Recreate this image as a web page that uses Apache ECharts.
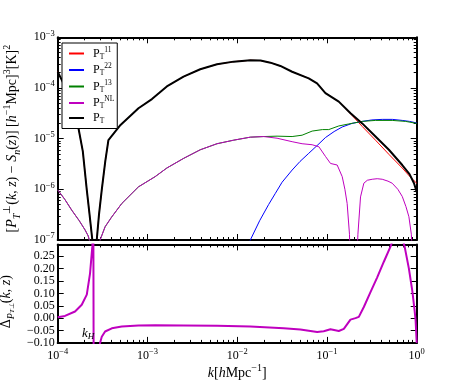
<!DOCTYPE html>
<html>
<head>
<meta charset="utf-8">
<script src="https://cdn.jsdelivr.net/npm/echarts@6/dist/echarts.min.js"></script>
<style>
  html, body { margin: 0; padding: 0; background: #ffffff; }
  #chart { width: 463px; height: 382px; }
</style>
</head>
<body>
<div id="chart"></div>
<script>
// ---- data ----
// P_T (black) and P_T^11 (red) share the same k samples
const kT = [1.00e-4, 1.122e-4, 1.259e-4, 1.413e-4, 1.585e-4, 1.698e-4, 1.905e-4, 2.109e-4, 2.265e-4, 2.432e-4,
  2.512e-4, 2.570e-4, 2.630e-4, 2.723e-4, 2.884e-4, 3.097e-4, 3.388e-4, 3.673e-4, 5.012e-4, 7.943e-4,
  1.122e-3, 1.644e-3, 2.523e-3, 3.873e-3, 5.957e-3, 9.120e-3, 1.400e-2, 1.820e-2, 2.344e-2, 3.027e-2,
  4.093e-2, 6.266e-2, 7.762e-2, 9.616e-2, 0.1355, 0.1832, 0.2472, 0.3475, 0.4898, 0.6902,
  0.8318, 0.9333, 1.0]
const pT = [2.09e-4, 1.38e-4, 8.91e-5, 5.37e-5, 2.82e-5, 1.66e-5, 5.62e-6, 9.77e-7, 3.16e-7, 1.0e-7,
  2.5e-8, 1e-9, 2.5e-8, 1.0e-7, 3.16e-7, 9.77e-7, 3.55e-6, 9.33e-6, 1.86e-5, 3.98e-5,
  6.03e-5, 1.07e-4, 1.67e-4, 2.34e-4, 2.93e-4, 3.31e-4, 3.52e-4, 3.47e-4, 3.16e-4, 2.72e-4,
  2.09e-4, 1.55e-4, 1.23e-4, 7.94e-5, 5.37e-5, 3.16e-5, 2.00e-5, 1.10e-5, 6.03e-6, 3.02e-6,
  2.00e-6, 1.32e-6, 8.91e-7]
const p11 = [2.09e-4, 1.38e-4, 8.91e-5, 5.37e-5, 2.82e-5, 1.66e-5, 5.62e-6, 9.77e-7, 3.16e-7, 1.0e-7,
  2.5e-8, 1e-9, 2.5e-8, 1.0e-7, 3.16e-7, 9.77e-7, 3.55e-6, 9.33e-6, 1.86e-5, 3.98e-5,
  6.03e-5, 1.07e-4, 1.67e-4, 2.34e-4, 2.93e-4, 3.31e-4, 3.52e-4, 3.47e-4, 3.16e-4, 2.72e-4,
  2.09e-4, 1.55e-4, 1.23e-4, 7.94e-5, 5.37e-5, 3.09e-5, 1.74e-5, 9.33e-6, 4.90e-6, 2.63e-6,
  1.82e-6, 1.48e-6, 1.32e-6]

// P_T^NL (magenta)
const kNL = [1.0e-4, 1.202e-4, 1.432e-4, 1.738e-4, 2.018e-4, 2.188e-4, 2.291e-4, 2.399e-4, 2.570e-4, 2.818e-4,
  2.965e-4, 3.373e-4, 3.981e-4, 5.176e-4, 7.943e-4, 1.219e-3, 1.644e-3, 2.523e-3, 3.873e-3, 5.957e-3,
  9.120e-3, 1.400e-2, 1.972e-2, 2.780e-2, 4.093e-2, 5.284e-2, 6.839e-2, 8.128e-2, 9.616e-2, 0.1096,
  0.1300, 0.1479, 0.1585, 0.1679, 0.1782, 0.1820, 0.1968, 0.2138, 0.2213, 0.2366,
  0.2576, 0.2818, 0.3192, 0.3631, 0.4130, 0.4786, 0.5333, 0.6166, 0.6902, 0.7586,
  0.8185, 0.8710, 0.9016, 0.9550, 1.0]
const pNL = [9.77e-7, 6.31e-7, 3.89e-7, 2.40e-7, 1.58e-7, 1.20e-7, 8.9e-8, 3.2e-8, 1e-9, 3.2e-8,
  1.0e-7, 1.82e-7, 2.82e-7, 5.25e-7, 1.12e-6, 1.78e-6, 2.63e-6, 4.07e-6, 6.03e-6, 7.94e-6,
  9.33e-6, 1.07e-5, 1.10e-5, 1.02e-5, 8.71e-6, 7.94e-6, 7.59e-6, 6.92e-6, 4.47e-6, 3.24e-6,
  3.02e-6, 1.78e-6, 1.0e-6, 5.25e-7, 1.3e-7, 3e-8, 1e-9, 3e-8, 1.3e-7, 7.08e-7,
  1.32e-6, 1.51e-6, 1.58e-6, 1.62e-6, 1.58e-6, 1.45e-6, 1.32e-6, 1.0e-6, 7.24e-7, 4.57e-7,
  2.88e-7, 1.3e-7, 3e-8, 1e-9, 1e-8]

// P_T^13 (green), hidden under the magenta at low k
const k13 = [1.0e-4, 1.202e-4, 1.432e-4, 1.738e-4, 2.018e-4, 2.188e-4, 2.291e-4, 2.399e-4, 2.570e-4, 2.818e-4,
  2.965e-4, 3.373e-4, 3.981e-4, 5.176e-4, 7.943e-4, 1.219e-3, 1.644e-3, 2.523e-3, 3.873e-3, 5.957e-3,
  9.120e-3, 1.400e-2, 1.972e-2, 2.780e-2, 4.093e-2, 5.284e-2, 6.839e-2, 8.913e-2, 0.1047, 0.1355,
  0.1750, 0.2472, 0.3475, 0.5333, 0.7516, 1.0]
const p13 = [9.77e-7, 6.31e-7, 3.89e-7, 2.40e-7, 1.58e-7, 1.20e-7, 8.9e-8, 3.2e-8, 1e-9, 3.2e-8,
  1.0e-7, 1.82e-7, 2.82e-7, 5.25e-7, 1.12e-6, 1.78e-6, 2.63e-6, 4.07e-6, 6.03e-6, 7.94e-6,
  9.33e-6, 1.07e-5, 1.10e-5, 1.12e-5, 1.10e-5, 1.17e-5, 1.41e-5, 1.51e-5, 1.51e-5, 1.78e-5,
  1.95e-5, 2.19e-5, 2.29e-5, 2.29e-5, 2.19e-5, 2.00e-5]

// P_T^22 (blue)
const k22 = [1.175e-2, 1.400e-2, 1.778e-2, 2.239e-2, 2.661e-2, 3.162e-2, 4.093e-2, 5.012e-2, 6.266e-2, 7.943e-2,
  9.616e-2, 0.1202, 0.1479, 0.1905, 0.2472, 0.3162, 0.4130, 0.5370, 0.6902, 0.8318, 1.0]
const p22 = [5.0e-8, 1.0e-7, 2.40e-7, 5.01e-7, 8.32e-7, 1.38e-6, 2.40e-6, 3.55e-6, 5.13e-6, 7.59e-6,
  1.05e-5, 1.38e-5, 1.70e-5, 2.00e-5, 2.19e-5, 2.34e-5, 2.40e-5, 2.40e-5, 2.29e-5, 2.19e-5, 2.04e-5]

// lower panel: relative difference
const kD = [1.0e-4, 1.205e-4, 1.560e-4, 1.854e-4, 2.109e-4, 2.291e-4, 2.432e-4, 2.489e-4, 2.529e-4, 2.754e-4,
  2.965e-4, 3.097e-4, 3.373e-4, 4.009e-4, 5.176e-4, 7.943e-4, 1.219e-3, 2.523e-3, 5.957e-3, 1.400e-2,
  3.296e-2, 5.058e-2, 7.780e-2, 9.204e-2, 0.1094, 0.1355, 0.1542, 0.1828, 0.2080, 0.2265,
  0.2576, 0.3055, 0.3631, 0.4305, 0.5117, 0.5821, 0.6607, 0.7328, 0.8185, 0.8933,
  0.9484, 0.9727, 1.0]
const dD = [0.004, 0.009, 0.027, 0.054, 0.095, 0.18, 0.29, 0.6, -0.6, -0.3,
  -0.10, -0.075, -0.054, -0.041, -0.034, -0.030, -0.029, -0.030, -0.031, -0.034,
  -0.041, -0.046, -0.056, -0.053, -0.045, -0.052, -0.043, -0.006, 0.0, 0.005,
  0.045, 0.105, 0.165, 0.228, 0.29, 0.35, 0.35, 0.29, 0.20, 0.11,
  0.03, -0.01, -0.10]

const kH = 2.91e-4

// ticks
const kDecades = [1e-4, 1e-3, 1e-2, 1e-1, 1]
const pDecades = [1e-7, 1e-6, 1e-5, 1e-4, 1e-3]
const dTicks = [-0.1, -0.05, 0, 0.05, 0.1, 0.15, 0.2, 0.25]
const minorSteps = [2, 3, 4, 5, 6, 7, 8, 9]

function minorTicks(decades) {
  const out = []
  decades.slice(0, -1).forEach(d => minorSteps.forEach(m => out.push(+(d * m).toPrecision(3))))
  return out
}
const kMinor = minorTicks(kDecades)
const pMinor = minorTicks(pDecades)

const pairs = (xs, ys) => xs.map((x, i) => [x, ys[i]])

// ---- styles ----
const serif = 'Liberation Serif'
const tickRich = {
  b: { fontFamily: serif, fontSize: 12, lineHeight: 17, color: '#000' },
  s: { fontFamily: serif, fontSize: 8.5, lineHeight: 9, verticalAlign: 'top', color: '#000' }
}
const nameRich = {
  r: { fontFamily: serif, fontSize: 14, lineHeight: 20, color: '#000' },
  i: { fontFamily: serif, fontSize: 14, fontStyle: 'italic', lineHeight: 20, color: '#000' },
  sub: { fontFamily: serif, fontSize: 10, lineHeight: 11, verticalAlign: 'bottom', color: '#000' },
  subi: { fontFamily: serif, fontSize: 10, fontStyle: 'italic', lineHeight: 11, verticalAlign: 'bottom', color: '#000' },
  subs: { fontFamily: serif, fontSize: 7, fontStyle: 'italic', lineHeight: 6, verticalAlign: 'bottom', color: '#000' },
  sup: { fontFamily: serif, fontSize: 10, lineHeight: 10, verticalAlign: 'top', color: '#000' }
}
const legendRich = {
  p: { fontFamily: serif, fontSize: 12, lineHeight: 15, color: '#000' },
  sub: { fontFamily: serif, fontSize: 7.5, lineHeight: 7, verticalAlign: 'bottom', color: '#000' },
  sup: { fontFamily: serif, fontSize: 7.5, lineHeight: 7, verticalAlign: 'top', color: '#000' }
}
const legendLabel = {
  P11: '{p|P}{sub|T}{sup|11}',
  P22: '{p|P}{sub|T}{sup|22}',
  P13: '{p|P}{sub|T}{sup|13}',
  PNL: '{p|P}{sub|T}{sup|NL}',
  PT: '{p|P}{sub|T}'
}

function pow10Label(v) {
  const e = Math.round(Math.log10(v))
  return '{b|10}{s|' + String(e).replace('-', '\u2212') + '}'
}

const frameLine = { show: true, onZero: false, lineStyle: { color: '#000', width: 2 } }
const noLine = { show: false, onZero: false }

// one axis per tick set, so major and minor ticks can have different lengths
function xAx(gridIndex, position, ticks, len, line, label, extra) {
  return Object.assign({
    type: 'log', logBase: 10, min: 1e-4, max: 1, gridIndex, position,
    axisLine: line ? frameLine : noLine,
    axisTick: { show: true, inside: true, length: len, customValues: ticks, lineStyle: { color: '#000', width: 1 } },
    axisLabel: label || { show: false },
    splitLine: { show: false }
  }, extra || {})
}
function yLog(position, ticks, len, line, label, extra) {
  return Object.assign({
    type: 'log', logBase: 10, min: 1e-7, max: 1e-3, gridIndex: 0, position,
    axisLine: line ? frameLine : noLine,
    axisTick: { show: true, inside: true, length: len, customValues: ticks, lineStyle: { color: '#000', width: 1 } },
    axisLabel: label || { show: false },
    splitLine: { show: false }
  }, extra || {})
}
function yLin(position, label, extra) {
  return Object.assign({
    type: 'value', min: -0.1, max: 0.298, gridIndex: 1, position,
    axisLine: frameLine,
    axisTick: { inside: true, length: 6, customValues: dTicks, lineStyle: { color: '#000', width: 1 } },
    axisLabel: label || { show: false },
    splitLine: { show: false }
  }, extra || {})
}

const curve = { type: 'line', symbol: 'none', xAxisIndex: 0, yAxisIndex: 0 }

const chart = echarts.init(document.getElementById('chart'), null, { renderer: 'canvas' })

chart.setOption({
  animation: false,
  backgroundColor: '#ffffff',
  grid: [
    { left: 57.7, top: 37.3, width: 359, height: 202.7, outerBoundsMode: 'none' },
    { left: 57.7, top: 244.4, width: 359, height: 98.5, outerBoundsMode: 'none' }
  ],
  xAxis: [
    xAx(0, 'bottom', kDecades, 6, true),
    xAx(0, 'bottom', kMinor, 3, false),
    xAx(0, 'top', kDecades, 6, true),
    xAx(0, 'top', kMinor, 3, false),
    xAx(1, 'bottom', kDecades, 6, true, {
      show: true, customValues: kDecades, margin: 4,
      formatter: pow10Label, rich: tickRich
    }, {
      name: '{i|k}{r|[}{i|h}{r|Mpc}{sup|\u22121}{r|]}',
      nameLocation: 'middle', nameGap: 20,
      nameTextStyle: { rich: nameRich }
    }),
    xAx(1, 'bottom', kMinor, 3, false),
    xAx(1, 'top', kDecades, 6, true),
    xAx(1, 'top', kMinor, 3, false)
  ],
  yAxis: [
    yLog('left', pDecades, 6, true, {
      show: true, customValues: pDecades, margin: 3,
      formatter: pow10Label, rich: tickRich
    }, {
      name: '{r|[}{i|P}{subi|T}{sup|\u22a5}{r|(}{i|k}{r|, }{i|z}{r|) \u2212 }{i|S}{subi|n}{r|(}{i|z}{r|)] [}{i|h}{sup|\u22121}{r|Mpc]}{sup|3}{r|[K]}{sup|2}',
      nameLocation: 'middle', nameGap: 34,
      nameTextStyle: { rich: nameRich }
    }),
    yLog('left', pMinor, 3, false),
    yLog('right', pDecades, 6, true),
    yLog('right', pMinor, 3, false),
    yLin('left', {
      show: true, customValues: dTicks, margin: 3,
      formatter: v => v.toFixed(2).replace('-', '\u2212'),
      fontFamily: serif, fontSize: 12, color: '#000'
    }, {
      name: '{r|\u0394}{subi|P}{subs|T\u22a5}{r|(}{i|k}{r|, }{i|z}{r|)}',
      nameLocation: 'middle', nameGap: 36, nameTextStyle: { rich: nameRich, padding: [0, 16, 0, 0] }
    }),
    yLin('right')
  ],
  legend: {
    orient: 'vertical', left: 62, top: 43, z: 10,
    data: ['P11', 'P22', 'P13', 'PNL', 'PT'],
    itemWidth: 15, itemHeight: 10, itemGap: 1.5,
    padding: [3, 3, 3, 6],
    // hide the dot that ECharts puts on line legend icons
    itemStyle: { color: 'rgba(0,0,0,0)', borderColor: 'rgba(0,0,0,0)', borderWidth: 0, opacity: 0 },
    backgroundColor: '#ffffff', borderColor: '#000', borderWidth: 1, borderRadius: 0,
    formatter: n => legendLabel[n],
    textStyle: { fontFamily: serif, fontSize: 12, color: '#000', padding: [0, 0, 0, 4], rich: legendRich }
  },
  graphic: [
    {
      type: 'text', left: 82, top: 327, z: 20,
      style: {
        text: '{i|k}{s|H}',
        rich: {
          i: { fontFamily: serif, fontSize: 13, fontStyle: 'italic', lineHeight: 16, fill: '#000' },
          s: { fontFamily: serif, fontSize: 9, fontStyle: 'italic', lineHeight: 8, verticalAlign: 'bottom', fill: '#000' }
        }
      }
    }
  ],
  series: [
    Object.assign({}, curve, { name: 'P11', data: pairs(kT, p11), color: '#ff0000', lineStyle: { width: 1 } }),
    Object.assign({}, curve, { name: 'P22', data: pairs(k22, p22), color: '#0000ff', lineStyle: { width: 1 } }),
    Object.assign({}, curve, { name: 'P13', data: pairs(k13, p13), color: '#008000', lineStyle: { width: 1 } }),
    Object.assign({}, curve, { name: 'PNL', data: pairs(kNL, pNL), color: '#bf00bf', lineStyle: { width: 1 } }),
    Object.assign({}, curve, {
      name: 'PT', data: pairs(kT, pT), color: '#000000', lineStyle: { width: 2 },
      markLine: {
        silent: true, symbol: 'none', label: { show: false },
        lineStyle: { color: '#000', width: 1, type: 'solid' },
        data: [{ xAxis: kH }]
      }
    }),
    Object.assign({}, curve, {
      name: 'delta', xAxisIndex: 4, yAxisIndex: 4, data: pairs(kD, dD),
      color: '#bf00bf', lineStyle: { width: 2 },
      markLine: {
        silent: true, symbol: 'none', label: { show: false },
        lineStyle: { color: '#000', width: 1, type: 'solid' },
        data: [{ xAxis: kH }]
      }
    })
  ]
})
</script>
</body>
</html>
